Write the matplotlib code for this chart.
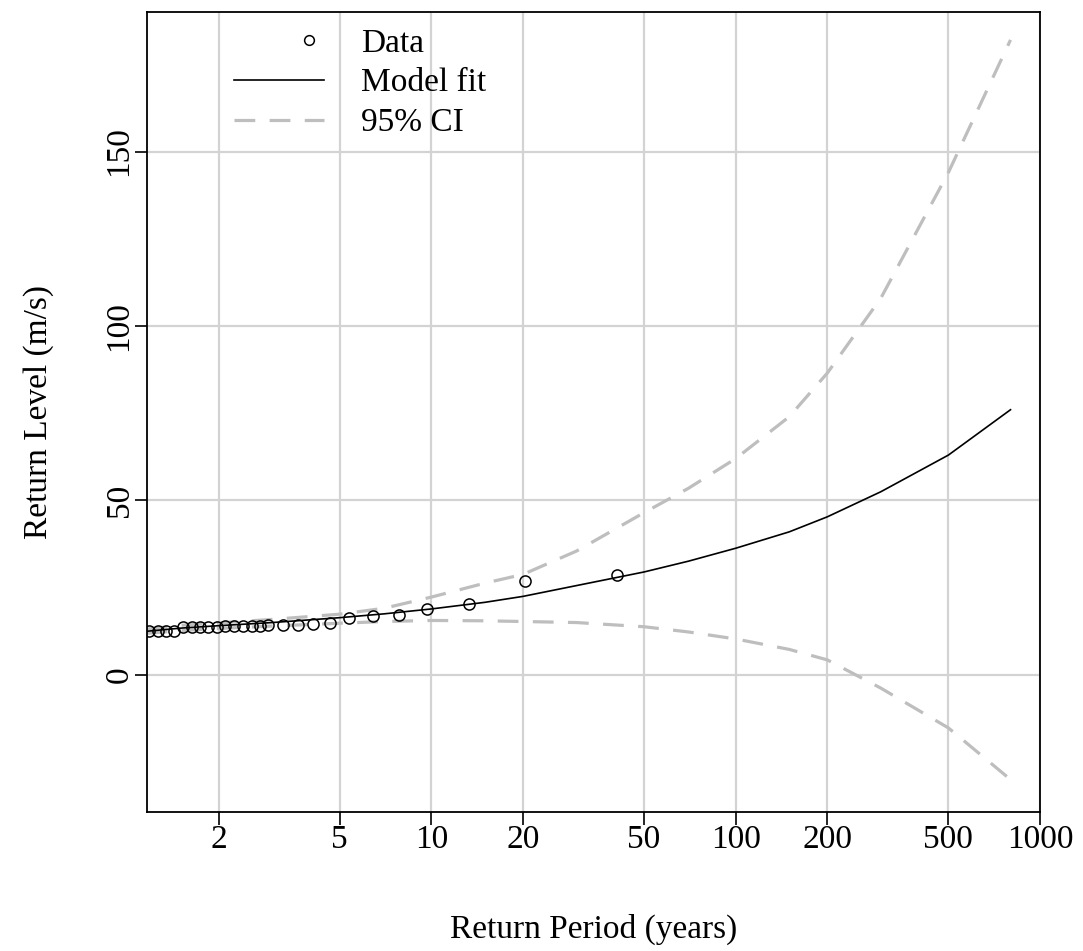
import numpy as np
import matplotlib
matplotlib.use("Agg")
import matplotlib.pyplot as plt

# observed annual maxima, plotted against empirical return period
data_period = [1.18, 1.26, 1.34, 1.43, 1.53, 1.63, 1.74, 1.84, 1.97, 2.10,
               2.24, 2.40, 2.57, 2.73, 2.90, 3.25, 3.64, 4.07, 4.63, 5.38,
               6.41, 7.80, 9.70, 13.3, 20.3, 40.7]
data_level = [12.6, 12.6, 12.6, 12.6, 13.6, 13.7, 13.7, 13.8, 13.8, 13.9,
              13.9, 14.0, 14.0, 14.1, 14.3, 14.3, 14.3, 14.6, 14.9, 16.3,
              17.0, 17.1, 18.9, 20.3, 27.0, 28.6]

# fitted return level curve and 95% confidence band
fit_period = [1.16, 1.5, 2, 3, 5, 7, 10, 15, 20, 30, 50, 70, 100, 150, 200,
              300, 500, 800]
fit_level = [12.5, 13.4, 14.1, 15.0, 16.4, 17.5, 18.9, 20.8, 22.5, 25.6,
             29.5, 32.6, 36.3, 41.0, 45.3, 52.5, 63.0, 76.0]
ci_upper = [13.1, 14.2, 14.9, 15.9, 17.4, 19.1, 22.3, 26.3, 28.8, 35.5,
            46.5, 53.5, 62.0, 74.0, 86.5, 108.0, 144.0, 182.0]
ci_lower = [11.9, 12.7, 13.3, 14.0, 14.8, 15.3, 15.6, 15.5, 15.3, 15.0,
            13.8, 12.3, 10.3, 7.3, 4.3, -3.8, -15.2, -30.0]

x_ticks = [2, 5, 10, 20, 50, 100, 200, 500, 1000]
y_ticks = [0, 50, 100, 150]

plt.rcParams['font.family'] = ['Liberation Serif', 'DejaVu Serif']
fs = 24

fig = plt.figure(figsize=(10.83, 9.51), dpi=100)
ax = fig.add_axes([147 / 1083, 1 - 812 / 951, 893 / 1083, 800 / 951])

ax.set_xscale('log')
ax.set_xlim(1.163, 1000)
ax.set_ylim(-39.3, 190)

for t in x_ticks:
    ax.axvline(t, color='#d3d3d3', lw=1.6, zorder=0)
for v in y_ticks:
    ax.axhline(v, color='#d3d3d3', lw=1.6, zorder=0)

ax.plot(data_period, data_level, 'o', mfc='none', mec='black', ms=8, mew=1.1,
        label='Data', zorder=3)
ax.plot(fit_period, fit_level, color='black', lw=1.2, label='Model fit',
        zorder=2)
ax.plot(fit_period, ci_upper, color='#bebebe', lw=2.3, dashes=(6.5, 4.5),
        label='95% CI', zorder=1)
ax.plot(fit_period, ci_lower, color='#bebebe', lw=2.3, dashes=(6.5, 4.5),
        zorder=1)

ax.set_xticks(x_ticks)
ax.set_xticklabels([str(t) for t in x_ticks])
ax.xaxis.set_minor_locator(matplotlib.ticker.NullLocator())
ax.set_yticks(y_ticks)
ax.set_yticklabels([str(v) for v in y_ticks], rotation=90, va='center')
ax.tick_params(direction='out', length=9, width=1.2, labelsize=fs)
ax.tick_params(axis='x', pad=0)
ax.tick_params(axis='y', pad=0)

for s in ax.spines.values():
    s.set_linewidth(1.3)

ax.set_xlabel('Return Period (years)', fontsize=fs, labelpad=42)
ax.set_ylabel('Return Level (m/s)', fontsize=fs, labelpad=36)

leg = ax.legend(loc='upper left', bbox_to_anchor=(0.075, 1.005), frameon=False,
                fontsize=fs, handlelength=2.7, handletextpad=1.1,
                labelspacing=0.28, numpoints=1, borderaxespad=0.2)
# R puts the legend symbol towards the right end of the key
h = leg.legend_handles[0]
xd = np.asarray(h.get_xdata(), dtype=float)
if len(xd) == 3:
    h.set_xdata([xd[0], xd[0] + 0.83 * (xd[2] - xd[0]), xd[2]])
h.set_markersize(7)

fig.savefig('out.png', dpi=100)
